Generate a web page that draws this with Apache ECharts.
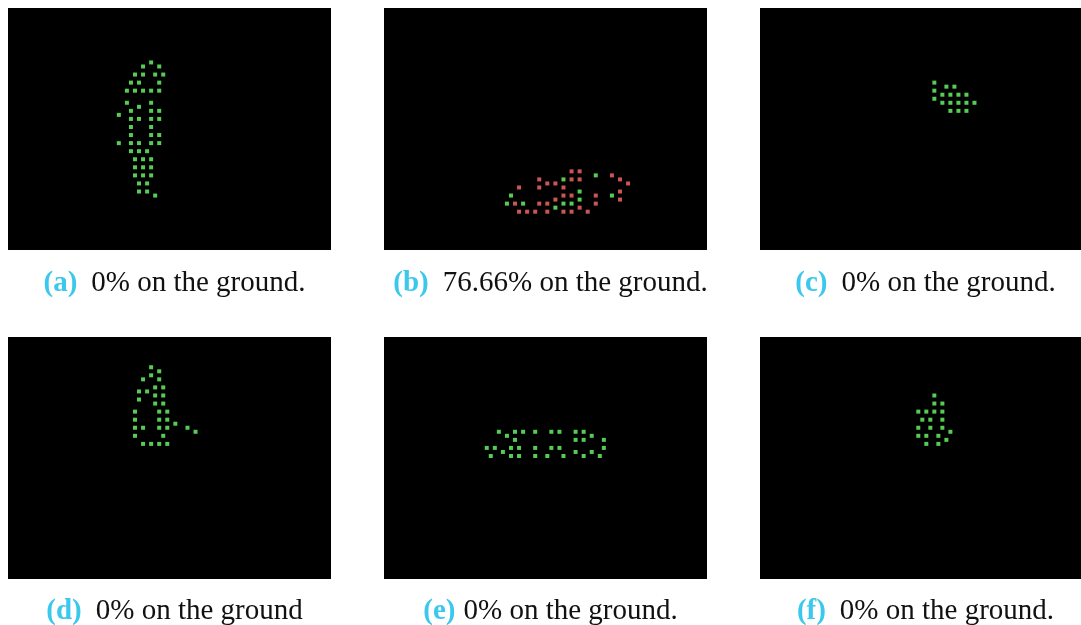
<!DOCTYPE html>
<html><head><meta charset="utf-8">
<script src="https://cdn.jsdelivr.net/npm/echarts@6/dist/echarts.min.js"></script>
<style>html,body{margin:0;padding:0;background:#fff}#c{width:1081px;height:625px}</style>
</head><body><div id="c"></div>
<script>
// Occupancy grid is 80 columns x 60 rows; points are [column, row] (row counted from top)
const panelLabels = ['(a)', '(b)', '(c)', '(d)', '(e)', '(f)'];
const panelCaptions = ['0% on the ground.', '76.66% on the ground.', '0% on the ground.',
                       '0% on the ground', '0% on the ground.', '0% on the ground.'];

const aGreen = [[35,13],[33,14],[37,14],[31,16],[33,16],[36,16],[38,16],[30,18],[32,18],[37,18],
  [29,20],[31,20],[33,20],[35,20],[37,20],[29,23],[35,23],[32,24],[30,25],[35,25],[37,25],[27,26],
  [30,27],[32,27],[35,27],[37,27],[30,29],[35,29],[30,31],[35,31],[37,31],[27,33],[30,33],[32,33],
  [35,33],[37,33],[30,35],[32,35],[34,35],[31,37],[33,37],[35,37],[31,39],[33,39],[35,39],[31,41],
  [33,41],[35,41],[32,43],[34,43],[32,45],[34,45],[36,46]];
const aRed = [];

const bGreen = [[44,42],[52,41],[31,46],[30,48],[34,48],[44,48],[42,49],[48,45],[56,46],[48,47],[46,48]];
const bRed = [[38,42],[40,43],[42,43],[33,44],[38,44],[44,44],[44,46],[42,47],[32,48],[38,48],[40,48],
  [33,50],[35,50],[37,50],[40,50],[44,50],[46,40],[48,40],[56,41],[46,42],[48,42],[58,42],[60,43],
  [58,45],[46,46],[52,46],[58,47],[52,48],[48,49],[46,50],[50,50]];

const cGreen = [[43,18],[46,19],[48,19],[43,20],[45,21],[47,21],[49,21],[51,21],[43,22],[45,23],[47,23],
  [49,23],[51,23],[53,23],[47,25],[49,25],[51,25]];
const cRed = [];

const dGreen = [[35,7],[37,8],[35,9],[33,10],[37,10],[36,12],[38,12],[32,13],[34,13],[36,14],[38,14],
  [32,15],[36,16],[38,16],[31,18],[37,18],[39,18],[31,20],[37,20],[39,20],[41,21],[31,22],[33,22],
  [37,22],[39,22],[44,22],[46,23],[31,24],[38,24],[33,26],[35,26],[37,26],[39,26]];
const dRed = [];

const eGreen = [[28,23],[32,23],[34,23],[37,23],[41,23],[43,23],[47,23],[49,23],[30,24],[51,24],
  [32,25],[47,25],[49,25],[54,25],[25,27],[27,27],[31,27],[33,27],[37,27],[41,27],[43,27],[54,27],
  [29,28],[47,28],[51,28],[26,29],[31,29],[33,29],[37,29],[40,29],[44,29],[49,29],[53,29]];
const eRed = [];

const fGreen = [[43,14],[43,16],[45,16],[39,18],[41,18],[43,18],[45,18],[40,20],[42,20],[45,20],
  [39,22],[42,22],[45,22],[47,23],[39,24],[41,24],[44,24],[46,25],[41,26],[44,26]];
const fRed = [];

const greens = [aGreen, bGreen, cGreen, dGreen, eGreen, fGreen];
const reds = [aRed, bRed, cRed, dRed, eRed, fRed];

// layout (styling, not data)
const colLeft = [8, 384, 760], colWidth = [323, 323, 321];
const rowTop = [8, 337], panelH = 242;
const capTop = [264, 592];
const labelGap = [14, 14, 14, 14, 8, 14];

const chart = echarts.init(document.getElementById('c'), null, {renderer: 'canvas'});
const grid = [], xAxis = [], yAxis = [], series = [], title = [];
for (let i = 0; i < 6; i++) {
  const r = Math.floor(i / 3), c = i % 3;
  grid.push({left: colLeft[c], top: rowTop[r], width: colWidth[c], height: panelH,
    show: true, backgroundColor: '#000', borderWidth: 0, containLabel: false});
  xAxis.push({gridIndex: i, type: 'value', min: -0.45, max: 79.55, show: false});
  yAxis.push({gridIndex: i, type: 'value', min: -0.5, max: 59.5, inverse: true, show: false});
  series.push({type: 'scatter', xAxisIndex: i, yAxisIndex: i, symbol: 'rect', symbolSize: 4,
    itemStyle: {color: '#6cff6c'}, data: greens[i], silent: true});
  series.push({type: 'scatter', xAxisIndex: i, yAxisIndex: i, symbol: 'rect', symbolSize: 4,
    itemStyle: {color: '#ff6a6a'}, data: reds[i], silent: true});
  title.push({
    text: '{l|' + panelLabels[i] + '}{t|' + panelCaptions[i] + '}',
    left: colLeft[c] + colWidth[c] / 2, top: capTop[r], textAlign: 'center',
    textStyle: {
      fontWeight: 'normal',
      rich: {
        l: {fontFamily: 'Liberation Serif', fontWeight: 'bold', fontSize: 29, color: '#3cc8ec',
            padding: [0, labelGap[i], 0, 0]},
        t: {fontFamily: 'Liberation Serif', fontWeight: 'normal', fontSize: 29, color: '#111'}
      }
    }
  });
}
chart.setOption({animation: false, backgroundColor: '#fff', grid, xAxis, yAxis, series, title});
</script>
</body></html>
